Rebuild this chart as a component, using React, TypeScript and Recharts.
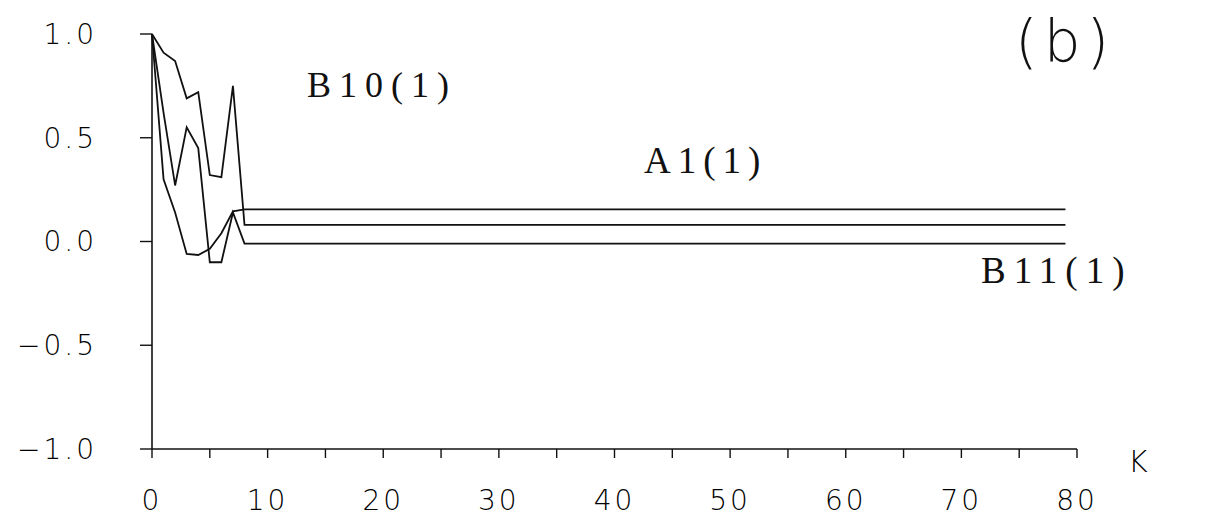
import React from 'react';
import { LineChart, Line, XAxis, YAxis } from 'recharts';

// Lag K (the flat tail runs unchanged from K=8 to K=79)
const kValues = [0, 1, 2, 3, 4, 5, 6, 7, 8, 79];
const seriesB10 = [1.0, 0.91, 0.87, 0.69, 0.72, 0.32, 0.31, 0.75, 0.08, 0.08];
const seriesB11 = [1.0, 0.62, 0.27, 0.55, 0.45, -0.1, -0.1, 0.14, -0.01, -0.01];
const seriesA1 = [1.0, 0.3, 0.14, -0.06, -0.065, -0.035, 0.04, 0.145, 0.155, 0.155];

const xTicks = [0, 5, 10, 15, 20, 25, 30, 35, 40, 45, 50, 55, 60, 65, 70, 75, 80];
const xLabelled = [0, 10, 20, 30, 40, 50, 60, 70, 80];
const yTicks = [-1, -0.5, 0, 0.5, 1];
const yTickLabels = ['\u22121.0', '\u22120.5', '0.0', '0.5', '1.0'];

const data = kValues.map((k, i) => ({
  k,
  b10: seriesB10[i],
  b11: seriesB11[i],
  a1: seriesA1[i],
}));

const tickFont = "'DejaVu Sans', 'Liberation Sans', sans-serif";
const labelFont = "'Liberation Serif', 'DejaVu Serif', serif";

const XTick = (props: any) => {
  const { x, y, payload } = props;
  if (!xLabelled.includes(payload.value)) return <g />;
  return (
    <text x={x} y={y} dy="0.71em" textAnchor="middle" fontFamily={tickFont} fontSize={28} fontWeight={200} fill="#000" style={{ letterSpacing: 3 }}>
      {String(payload.value)}
    </text>
  );
};

const YTick = (props: any) => {
  const { x, y, payload } = props;
  const idx = yTicks.indexOf(payload.value);
  return (
    <text x={x} y={y} dy="0.355em" textAnchor="end" fontFamily={tickFont} fontSize={28} fontWeight={200} fill="#000" style={{ letterSpacing: 3 }}>
      {idx >= 0 ? yTickLabels[idx] : ''}
    </text>
  );
};

export default function App() {
  return (
    <div style={{ position: 'absolute', left: 0, top: 0, width: 1206, height: 527, background: '#fff' }}>
      <LineChart width={1206} height={527} data={data} margin={{ top: 34, right: 129, bottom: 0, left: 0 }}>
        <XAxis
          dataKey="k"
          type="number"
          domain={[0, 80]}
          ticks={xTicks}
          interval={0}
          height={78}
          tickSize={9}
          tickMargin={32}
          tick={<XTick />}
          stroke="#111"
          strokeWidth={1.6}
          tickLine={{ stroke: '#111', strokeWidth: 1.4 }}
        />
        <YAxis
          type="number"
          domain={[-1, 1]}
          ticks={yTicks}
          interval={0}
          width={152}
          tickSize={12}
          tickMargin={43}
          tick={<YTick />}
          stroke="#111"
          strokeWidth={1.6}
          tickLine={{ stroke: '#111', strokeWidth: 1.4 }}
        />
        <Line type="linear" dataKey="b10" stroke="#111" strokeWidth={1.8} dot={false} isAnimationActive={false} />
        <Line type="linear" dataKey="b11" stroke="#111" strokeWidth={1.8} dot={false} isAnimationActive={false} />
        <Line type="linear" dataKey="a1" stroke="#111" strokeWidth={1.8} dot={false} isAnimationActive={false} />
      </LineChart>
      <svg width={1206} height={527} style={{ position: 'absolute', left: 0, top: 0, pointerEvents: 'none' }}>
        <text x={307} y={97} fontFamily={labelFont} fontSize={36} fill="#111" style={{ letterSpacing: 8 }}>B10(1)</text>
        <text x={644} y={173} fontFamily={labelFont} fontSize={37} fill="#111" style={{ letterSpacing: 7 }}>A1(1)</text>
        <text x={981} y={283} fontFamily={labelFont} fontSize={37} fill="#111" style={{ letterSpacing: 8 }}>B11(1)</text>
        <text x={1015} y={62} fontFamily={tickFont} fontSize={58} fontWeight={200} fill="#111" style={{ letterSpacing: 6 }}>(b)</text>
        <text x={1128} y={472} fontFamily={tickFont} fontSize={30} fontWeight={200} fill="#000">K</text>
      </svg>
    </div>
  );
}
